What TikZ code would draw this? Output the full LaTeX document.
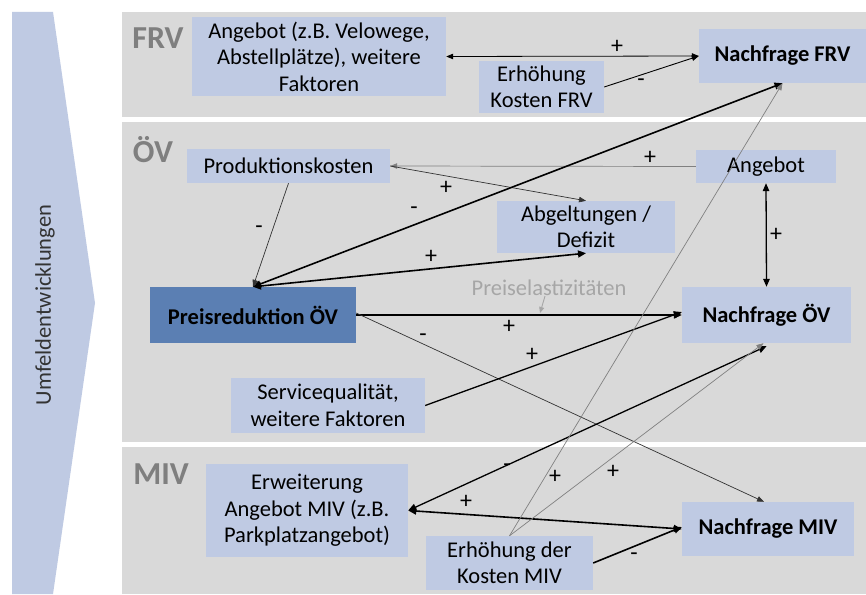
\documentclass[tikz,border=0pt]{standalone}
\usepackage{fontspec}
\setmainfont{Carlito}
\usetikzlibrary{arrows.meta}
\definecolor{panelgray}{HTML}{D9D9D9}
\definecolor{lightblue}{HTML}{BFCAE3}
\definecolor{darkblue}{HTML}{5B7FB3}
\definecolor{labelgray}{HTML}{7F7F7F}
\definecolor{thingray}{HTML}{808080}
\definecolor{elastgray}{HTML}{A6A6A6}
\tikzset{
  box/.style={fill=lightblue, inner sep=0pt, align=center, font=\fontsize{22.5}{26.5}\selectfont},
  boldbox/.style={box, font=\fontsize{22.5}{26.5}\selectfont\bfseries},
  panel/.style={fill=panelgray, draw=none},
  paneltitle/.style={text=labelgray, font=\fontsize{32}{34}\selectfont\bfseries, inner sep=0pt},
  sign/.style={font=\fontsize{24}{26}\selectfont, inner sep=0pt},
  thick line/.style={line width=1.6pt, -{Triangle[length=8pt,width=7pt]}},
  thickboth/.style={line width=1.6pt, {Triangle[length=8pt,width=7pt]}-{Triangle[length=8pt,width=7pt]}},
  thin line/.style={line width=0.7pt, draw=black!80, -{Triangle[length=7pt,width=5.5pt]}},
  thinboth/.style={line width=0.8pt, draw=black, {Triangle[length=7pt,width=5.5pt]}-{Triangle[length=7pt,width=5.5pt]}},
  gray line/.style={line width=0.7pt, draw=thingray, -{Triangle[length=7pt,width=5.5pt]}},
}
\begin{document}
\begin{tikzpicture}[x=1pt,y=-1pt]
\useasboundingbox (0,0) rectangle (866,594);
\fill[white] (0,0) rectangle (866,594);
% chevron
\fill[lightblue] (12,12) -- (53,12) -- (95,303) -- (53,594) -- (12,594) -- cycle;
\node[rotate=90, font=\fontsize{22.5}{24}\selectfont, text=black!80, inner sep=0pt] (umfeld) at (45,305) {Umfeldentwicklungen};
% panels
\fill[panelgray] (122,12) rectangle (866,117);
\fill[panelgray] (122,122) rectangle (866,442);
\fill[panelgray] (122,447) rectangle (866,594);
\node[paneltitle] (tfrv) at (158,38) {FRV};
\node[paneltitle] (toev) at (153,150) {ÖV};
\node[paneltitle] (tmiv) at (161,474) {MIV};
% nodes
\node[box, minimum width=254pt, minimum height=79pt] (angfrv) at (319,56.5) {Angebot (z.B. Velowege,\\Abstellplätze), weitere\\Faktoren};
\node[box, minimum width=125pt, minimum height=52pt] (erhfrv) at (541.5,87) {Erhöhung\\Kosten FRV};
\node[boldbox, minimum width=167pt, minimum height=54pt] (nachfrv) at (782.5,56) {Nachfrage FRV};
\node[box, minimum width=203pt, minimum height=34pt] (prod) at (288.5,166) {Produktionskosten};
\node[box, minimum width=140pt, minimum height=33pt] (angoev) at (766,166.5) {Angebot};
\node[box, minimum width=178pt, minimum height=52pt] (abg) at (586,227) {Abgeltungen /\\Defizit};
\node[boldbox, fill=darkblue, minimum width=206pt, minimum height=56pt] (preis) at (253,315) {Preisreduktion ÖV};
\node[boldbox, minimum width=169pt, minimum height=56pt] (nachoev) at (766.5,315) {Nachfrage ÖV};
\node[box, minimum width=194pt, minimum height=55pt] (service) at (328,405.5) {Servicequalität,\\weitere Faktoren};
\node[box, minimum width=202pt, minimum height=93pt] (erwmiv) at (307,510.5) {Erweiterung\\Angebot MIV (z.B.\\Parkplatzangebot)};
\node[box, minimum width=167pt, minimum height=54pt] (erhmiv) at (509.5,563) {Erhöhung der\\Kosten MIV};
\node[boldbox, minimum width=172pt, minimum height=54pt] (nachmiv) at (768,529) {Nachfrage MIV};
% connectors FRV
\draw[thinboth] (angfrv.east) -- (nachfrv.west);
\draw[thin line, draw=black, line width=0.9pt] (erhfrv.east) -- (nachfrv.west);
% ÖV
\draw[gray line] (angoev.west) -- (prod.east);
\draw[thin line] (prod.east) -- (abg.north);
\draw[thin line] (prod.south) -- (preis.north);
\draw[thickboth] (preis.north) -- (nachfrv.south);
\draw[thickboth] (preis.north) -- (abg.south);
\draw[line width=1.3pt, {Triangle[length=8pt,width=6.5pt]}-{Triangle[length=8pt,width=6.5pt]}] (angoev.south) -- (nachoev.north);
\draw[thick line] (preis.east) -- (nachoev.west);
\draw[thin line] ([yshift=2pt]preis.east) -- ([xshift=-4pt]nachmiv.north);
\draw[thick line, line width=1.3pt] (service.east) -- ([yshift=3pt]nachoev.west);
% MIV
\draw[thickboth, line width=1.3pt] ([yshift=-3pt]nachoev.south) -- (erwmiv.east);
\draw[thickboth] (erwmiv.east) -- (nachmiv.west);
\draw[gray line] (erhmiv.north) -- (nachfrv.south);
\draw[gray line] (erhmiv.north) -- ([xshift=-3pt]nachoev.south);
\draw[thick line] (erhmiv.east) -- ([yshift=2pt]nachmiv.west);
% elasticity label
\node[font=\fontsize{22.5}{24}\selectfont, text=elastgray, inner sep=0pt] (elast) at (549,288) {Preiselastizitäten};
\coordinate (elasttip) at (540,313);
\draw[elastgray, line width=0.9pt, -{Triangle[length=6pt,width=5pt]}] ([xshift=-4pt]elast.south) -- (elasttip);
% signs
\node[sign] (s1) at (617,47) {+};
\node[sign] (s2) at (641,83) {-};
\node[sign] (s3) at (650,158) {+};
\node[sign] (s4) at (446,188) {+};
\node[sign] (s5) at (259,230) {-};
\node[sign] (s6) at (414,211) {-};
\node[sign] (s7) at (431,257) {+};
\node[sign] (s8) at (776,235) {+};
\node[sign] (s9) at (509,327) {+};
\node[sign] (s10) at (423,338) {-};
\node[sign] (s11) at (532,355) {+};
\node[sign] (s12) at (507,468) {-};
\node[sign] (s13) at (466,502) {+};
\node[sign] (s14) at (555,477) {+};
\node[sign] (s15) at (613,472) {+};
\node[sign] (s16) at (634,557) {-};
\end{tikzpicture}
\end{document}
